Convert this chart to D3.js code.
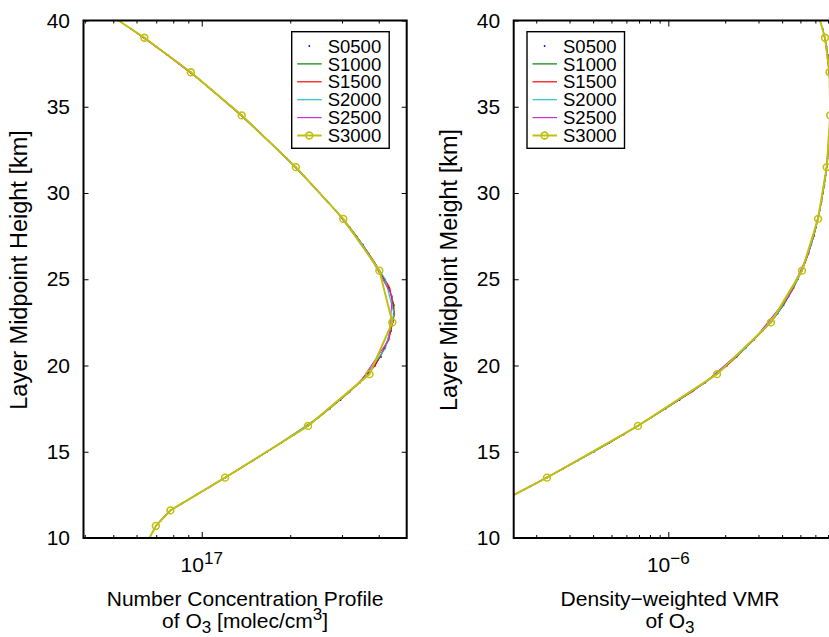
<!DOCTYPE html>
<html>
<head>
<meta charset="utf-8">
<script src="https://cdn.jsdelivr.net/npm/d3@7"></script>
<style>
  body { margin: 0; background: #fff; }
  svg { display: block; }
  text { font-family: "Liberation Sans", Arial, Helvetica, sans-serif; fill: #000; }
</style>
</head>
<body>
<svg id="chart" width="829" height="637"></svg>
<script>
// ---------------- data: layer midpoint heights [km] ----------------
const heights0500 = [10, 10.5, 11, 11.5, 12, 12.5, 13, 13.5, 14, 14.5, 15, 15.5, 16, 16.5, 17, 17.5,
  18, 18.5, 19, 19.5, 20, 20.5, 21, 21.5, 22, 22.5, 23, 23.5, 24, 24.5, 25, 25.5, 26, 26.5, 27, 27.5,
  28, 28.5, 29, 29.5, 30, 30.5, 31, 31.5, 32, 32.5, 33, 33.5, 34, 34.5, 35, 35.5, 36, 36.5, 37, 37.5,
  38, 38.5, 39, 39.5, 40];
const heights1000 = [10.7, 11.6, 12.5, 13.5, 14.5, 15.5, 16.5, 17.5, 18.5, 19.5, 20.5, 21.5, 22.5, 23.5,
  24.5, 25.5, 26.5, 27.5, 28.5, 29.5, 30.5, 31.5, 32.5, 33.5, 34.5, 35.5, 36.5, 37.5, 38.5, 39.5];
const heights1500 = [10.7, 11.6, 12.5, 14, 15.5, 17, 18.5, 20, 21.5, 23, 24.5, 26, 27.5, 29, 30.5, 32,
  33.5, 35, 36.5, 38, 39.5];
const heights2000 = [10.7, 11.6, 13, 15, 17, 19, 21, 23, 25, 27, 29, 31, 33, 35, 37, 39];
const heights2500 = [10.7, 11.6, 14, 16.5, 19, 21.5, 24, 26.5, 29, 31.5, 34, 36.5, 39];
const heights3000 = [9.5, 10.7, 11.6, 13.5, 16.5, 19.5, 22.5, 25.5, 28.5, 31.5, 34.5, 37, 39, 41.5];

// ---------------- O3 number concentration [molec/cm^3] ----------------
const numDens0500 = [0.663e17, 0.688e17, 0.725e17, 0.772e17, 0.856e17, 0.959e17, 1.074e17, 1.203e17,
  1.342e17, 1.496e17, 1.668e17, 1.856e17, 2.065e17, 2.299e17, 2.502e17, 2.725e17, 2.966e17, 3.197e17,
  3.446e17, 3.716e17, 3.892e17, 4.073e17, 4.206e17, 4.313e17, 4.405e17, 4.460e17, 4.499e17, 4.495e17,
  4.432e17, 4.319e17, 4.186e17, 4.019e17, 3.852e17, 3.690e17, 3.537e17, 3.359e17, 3.192e17, 3.031e17,
  2.850e17, 2.677e17, 2.516e17, 2.365e17, 2.222e17, 2.088e17, 1.946e17, 1.813e17, 1.690e17, 1.575e17,
  1.468e17, 1.368e17, 1.263e17, 1.166e17, 1.076e17, 0.994e17, 0.918e17, 0.838e17, 0.765e17, 0.698e17,
  0.638e17, 0.576e17, 0.520e17];
const numDens1000 = [0.698e17, 0.782e17, 0.959e17, 1.203e17, 1.496e17, 1.856e17, 2.299e17, 2.725e17,
  3.197e17, 3.690e17, 4.050e17, 4.300e17, 4.470e17, 4.510e17, 4.330e17, 4.019e17, 3.690e17, 3.359e17,
  3.031e17, 2.677e17, 2.365e17, 2.088e17, 1.813e17, 1.575e17, 1.368e17, 1.166e17, 0.994e17, 0.838e17,
  0.698e17, 0.576e17];
const numDens1500 = [0.698e17, 0.782e17, 0.959e17, 1.342e17, 1.856e17, 2.502e17, 3.197e17, 3.892e17,
  4.330e17, 4.530e17, 4.360e17, 3.870e17, 3.359e17, 2.850e17, 2.365e17, 1.946e17, 1.575e17, 1.263e17,
  0.994e17, 0.765e17, 0.576e17];
const numDens2000 = [0.698e17, 0.782e17, 1.074e17, 1.668e17, 2.502e17, 3.446e17, 4.220e17, 4.510e17,
  4.210e17, 3.537e17, 2.850e17, 2.222e17, 1.690e17, 1.263e17, 0.918e17, 0.638e17];
const numDens2500 = [0.698e17, 0.782e17, 1.342e17, 2.299e17, 3.446e17, 4.330e17, 4.450e17, 3.690e17,
  2.850e17, 2.088e17, 1.468e17, 0.994e17, 0.638e17];
const numDens3000 = [0.640e17, 0.698e17, 0.782e17, 1.200e17, 2.300e17, 3.720e17, 4.450e17, 4.020e17,
  3.030e17, 2.090e17, 1.368e17, 0.918e17, 0.638e17, 0.384e17];

// ---------------- density-weighted O3 volume mixing ratio ----------------
const vmr0500 = [0.0548e-6, 0.0675e-6, 0.0830e-6, 0.102e-6, 0.125e-6, 0.153e-6, 0.187e-6, 0.228e-6,
  0.276e-6, 0.333e-6, 0.404e-6, 0.486e-6, 0.581e-6, 0.691e-6, 0.818e-6, 0.967e-6, 1.146e-6, 1.343e-6,
  1.564e-6, 1.810e-6, 2.045e-6, 2.296e-6, 2.562e-6, 2.841e-6, 3.150e-6, 3.495e-6, 3.783e-6, 4.069e-6,
  4.325e-6, 4.597e-6, 4.856e-6, 5.099e-6, 5.308e-6, 5.519e-6, 5.710e-6, 5.886e-6, 6.046e-6, 6.195e-6,
  6.332e-6, 6.465e-6, 6.584e-6, 6.697e-6, 6.796e-6, 6.887e-6, 6.964e-6, 7.031e-6, 7.083e-6, 7.126e-6,
  7.161e-6, 7.187e-6, 7.196e-6, 7.196e-6, 7.187e-6, 7.161e-6, 7.126e-6, 7.065e-6, 6.981e-6, 6.880e-6,
  6.747e-6, 6.568e-6, 6.348e-6];
const vmr1000 = [0.0733e-6, 0.106e-6, 0.153e-6, 0.228e-6, 0.333e-6, 0.486e-6, 0.691e-6, 0.967e-6,
  1.343e-6, 1.810e-6, 2.296e-6, 2.841e-6, 3.495e-6, 4.069e-6, 4.597e-6, 5.099e-6, 5.519e-6, 5.886e-6,
  6.195e-6, 6.465e-6, 6.697e-6, 6.887e-6, 7.031e-6, 7.126e-6, 7.187e-6, 7.196e-6, 7.161e-6, 7.065e-6,
  6.880e-6, 6.568e-6];
const vmr1500 = [0.0733e-6, 0.106e-6, 0.153e-6, 0.276e-6, 0.486e-6, 0.818e-6, 1.343e-6, 2.045e-6,
  2.841e-6, 3.783e-6, 4.597e-6, 5.308e-6, 5.886e-6, 6.332e-6, 6.697e-6, 6.964e-6, 7.126e-6, 7.196e-6,
  7.161e-6, 6.981e-6, 6.568e-6];
const vmr2000 = [0.0733e-6, 0.106e-6, 0.187e-6, 0.404e-6, 0.818e-6, 1.564e-6, 2.562e-6, 3.783e-6,
  4.856e-6, 5.710e-6, 6.332e-6, 6.796e-6, 7.083e-6, 7.196e-6, 7.126e-6, 6.747e-6];
const vmr2500 = [0.0733e-6, 0.106e-6, 0.276e-6, 0.691e-6, 1.564e-6, 2.841e-6, 4.325e-6, 5.519e-6,
  6.332e-6, 6.887e-6, 7.161e-6, 7.161e-6, 6.747e-6];
const vmr3000 = [0.0446e-6, 0.0733e-6, 0.106e-6, 0.228e-6, 0.691e-6, 1.810e-6, 3.490e-6, 5.100e-6,
  6.200e-6, 6.890e-6, 7.190e-6, 7.130e-6, 6.750e-6, 5.790e-6];

// ---------------- series & axis labels ----------------
const seriesNames = ["S0500", "S1000", "S1500", "S2000", "S2500", "S3000"];
const seriesColors = ["#0000ff", "#008000", "#ff0000", "#22c4c4", "#cc33cc", "#c0c010"];
const seriesHeights = [heights0500, heights1000, heights1500, heights2000, heights2500, heights3000];
const numDensSeries = [numDens0500, numDens1000, numDens1500, numDens2000, numDens2500, numDens3000];
const vmrSeries = [vmr0500, vmr1000, vmr1500, vmr2000, vmr2500, vmr3000];
const heightTicks = [10, 15, 20, 25, 30, 35, 40];
const heightRange = [10, 40];

const svg = d3.select("#chart");
const FONT = 21, SUP = 17, YLABEL = 23.5;

const y = d3.scaleLinear().domain(heightRange).range([538, 20.5]);

const panels = [
  {
    id: "nd", left: 83.5, right: 406.7, xDomain: [3.96e16, 4.98e17], values: numDensSeries,
    yLabel: "Layer Midpoint Height [km]", yLabelX: 27,
    titleX: null, title1: "Number Concentration Profile",
    title2: [["of O", 0], ["3", 1], [" [molec/cm", 0], ["3", 2], ["]", 0]],
    legendX: 291.7
  },
  {
    id: "vmr", left: 513.7, right: 836.9, xDomain: [1.52e-7, 7.80e-6], values: vmrSeries,
    yLabel: "Layer Midpoint Meight [km]", yLabelX: 457,
    titleX: 670, title1: "Density\u2212weighted VMR",
    title2: [["of O", 0], ["3", 1]],
    legendX: 527
  }
];

function supText(sel, base, exp) {
  sel.append("tspan").text(base);
  sel.append("tspan").attr("font-size", SUP).attr("dy", -8).text(exp);
}

panels.forEach(p => {
  const x = d3.scaleLog().domain(p.xDomain).range([p.left, p.right]);
  const g = svg.append("g");

  const clipId = "clip-" + p.id;
  svg.append("clipPath").attr("id", clipId)
    .append("rect").attr("x", p.left).attr("y", y(40))
    .attr("width", p.right - p.left).attr("height", y(10) - y(40));

  // log ticks: decades are major, the rest minor
  const allTicks = x.ticks();
  const isMajor = v => Math.abs(Math.log10(v) - Math.round(Math.log10(v))) < 1e-6;
  const major = allTicks.filter(isMajor);
  const minor = allTicks.filter(v => !isMajor(v));

  const styleAxis = a => {
    a.select(".domain").remove();
    a.selectAll(".tick line").attr("stroke", "#000").attr("stroke-width", 1);
  };

  // bottom and top ticks point inward
  g.append("g").attr("transform", `translate(0,${y(10)})`)
    .call(d3.axisBottom(x).tickValues(major).tickSize(-6).tickFormat(() => "")).call(styleAxis);
  g.append("g").attr("transform", `translate(0,${y(10)})`)
    .call(d3.axisBottom(x).tickValues(minor).tickSize(-3).tickFormat(() => "")).call(styleAxis);
  g.append("g").attr("transform", `translate(0,${y(40)})`)
    .call(d3.axisTop(x).tickValues(major).tickSize(-6).tickFormat(() => "")).call(styleAxis);
  g.append("g").attr("transform", `translate(0,${y(40)})`)
    .call(d3.axisTop(x).tickValues(minor).tickSize(-3).tickFormat(() => "")).call(styleAxis);

  // height axes
  const yl = g.append("g").attr("transform", `translate(${p.left},0)`)
    .call(d3.axisLeft(y).tickValues(heightTicks).tickSize(-5).tickPadding(13.5));
  styleAxis(yl);
  yl.selectAll(".tick text").attr("font-size", FONT)
    .attr("font-family", '"Liberation Sans", Arial, sans-serif').attr("fill", "#000");
  g.append("g").attr("transform", `translate(${p.right},0)`)
    .call(d3.axisRight(y).tickValues(heightTicks).tickSize(-5).tickFormat(() => "")).call(styleAxis);

  // decade labels 10^n
  major.forEach(v => {
    const e = Math.round(Math.log10(v));
    const t = g.append("text").attr("x", x(v)).attr("y", 571.5)
      .attr("text-anchor", "middle").attr("font-size", FONT);
    supText(t, "10", String(e).replace("-", "\u2212"));
  });

  // data
  const plot = svg.append("g").attr("clip-path", `url(#${clipId})`);
  const line = d3.line().x(d => x(d[0])).y(d => y(d[1]));
  seriesNames.forEach((name, i) => {
    const pts = p.values[i].map((v, k) => [v, seriesHeights[i][k]]);
    if (i === 0) {
      plot.append("g").selectAll("circle").data(pts).join("circle")
        .attr("cx", d => x(d[0])).attr("cy", d => y(d[1])).attr("r", 0.9)
        .attr("fill", seriesColors[i]);
    } else {
      plot.append("path").datum(pts).attr("d", line).attr("fill", "none")
        .attr("stroke", seriesColors[i]).attr("stroke-width", i === 5 ? 2 : 1.1)
        .attr("stroke-linejoin", "round");
      if (i === 5) {
        plot.append("g").selectAll("circle").data(pts).join("circle")
          .attr("cx", d => x(d[0])).attr("cy", d => y(d[1])).attr("r", 3.4)
          .attr("fill", "none").attr("stroke", seriesColors[i]).attr("stroke-width", 1.6);
      }
    }
  });

  // frame
  svg.append("rect").attr("x", p.left).attr("y", y(40))
    .attr("width", p.right - p.left).attr("height", y(10) - y(40))
    .attr("fill", "none").attr("stroke", "#000").attr("stroke-width", 2);

  // axis titles
  svg.append("text")
    .attr("transform", `translate(${p.yLabelX},270) rotate(-90)`)
    .attr("text-anchor", "middle").attr("font-size", YLABEL).text(p.yLabel);

  const cx = p.titleX !== null ? p.titleX : (p.left + p.right) / 2;
  svg.append("text").attr("x", cx).attr("y", 605.5).attr("text-anchor", "middle")
    .attr("font-size", FONT).text(p.title1);
  const t2 = svg.append("text").attr("x", cx).attr("y", 627.5).attr("text-anchor", "middle")
    .attr("font-size", FONT);
  let shift = 0;
  p.title2.forEach(([s, kind]) => {
    let dy = 0, fs = FONT;
    if (kind === 1) { dy = 5.5 - shift; fs = SUP; shift = 5.5; }
    else if (kind === 2) { dy = -8 - shift; fs = SUP; shift = -8; }
    else { dy = -shift; shift = 0; }
    t2.append("tspan").attr("dy", dy).attr("font-size", fs).text(s);
  });

  // legend
  const lg = svg.append("g").attr("transform", `translate(${p.legendX},31.7)`);
  lg.append("rect").attr("width", 97.5).attr("height", 116.6)
    .attr("fill", "#fff").attr("stroke", "#000").attr("stroke-width", 1.4);
  seriesNames.forEach((name, i) => {
    const ry = 14.3 + i * 17.9;
    if (i === 0) {
      lg.append("circle").attr("cx", 17.6).attr("cy", ry).attr("r", 0.9).attr("fill", seriesColors[i]);
    } else {
      lg.append("line").attr("x1", 5.5).attr("x2", 30).attr("y1", ry).attr("y2", ry)
        .attr("stroke", seriesColors[i]).attr("stroke-width", i === 5 ? 2 : 1.2);
      if (i === 5) {
        lg.append("circle").attr("cx", 17.6).attr("cy", ry).attr("r", 3.4)
          .attr("fill", "none").attr("stroke", seriesColors[i]).attr("stroke-width", 1.6);
      }
    }
    lg.append("text").attr("x", 36).attr("y", ry).attr("dy", "0.36em")
      .attr("font-size", 18.5).text(name);
  });
});
</script>
</body>
</html>
